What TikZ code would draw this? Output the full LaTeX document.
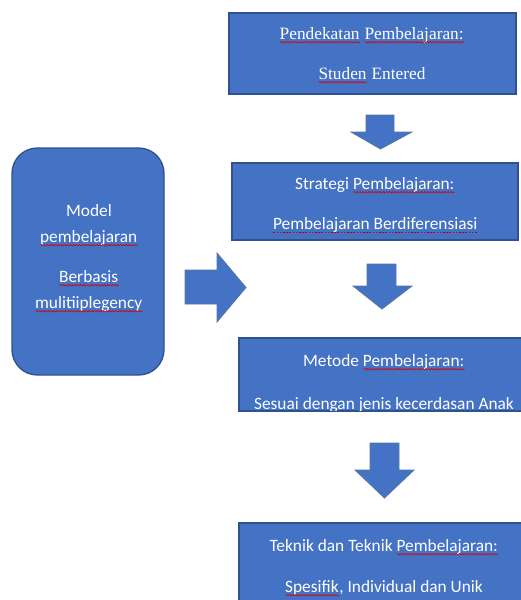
\documentclass[tikz,border=0pt]{standalone}
\usepackage{fontspec}
\setmainfont{Carlito}
\newfontfamily\tnr{Liberation Serif}
\usetikzlibrary{decorations.pathmorphing}
\definecolor{boxblue}{HTML}{4472C4}
\definecolor{boxedge}{HTML}{2F528F}
\newsavebox\sqb
\newlength\sqlen
\newcommand\sq[1]{\sbox\sqb{#1}\setlength\sqlen{\wd\sqb}\usebox\sqb\hspace{-\sqlen}\tikz[baseline=0pt]\draw[red!85!black,line width=0.45pt,decorate,decoration={snake,amplitude=0.55pt,segment length=2.2pt}] (0pt,-2.4pt)--(\the\sqlen,-2.4pt);}
\newcommand\sd[1]{\sbox\sqb{#1}\setlength\sqlen{\wd\sqb}\usebox\sqb\hspace{-\sqlen}\tikz[baseline=0pt]\draw[red!70!black,line width=0.45pt,dash pattern=on 1.2pt off 1.2pt] (0pt,-2.4pt)--(\the\sqlen,-2.4pt);}
\begin{document}
\begin{tikzpicture}[x=0.75pt,y=-0.75pt,
  box/.style={fill=boxblue,draw=boxedge,line width=1pt},
  arr/.style={fill=boxblue,draw=boxedge!80,line width=0.6pt,line join=miter},
  txt/.style={text=white,inner sep=0pt,anchor=base,font=\fontsize{13}{15}\selectfont},
  stxt/.style={txt,font=\tnr\fontsize{13}{15}\selectfont}]
\useasboundingbox (0,0) rectangle (521,600);
\clip (0,0) rectangle (521,600);
% boxes
\draw[box] (229,13) rectangle (516,94);
\draw[box] (232,163) rectangle (518,240);
\draw[box] (239,338) rectangle (530,411);
\draw[box] (239,523) rectangle (530,620);
\draw[box,rounded corners=19pt] (12,148) rectangle (164,375);
% block arrows
\draw[arr] (366,115) -- (394,115) -- (394,132) -- (412,132) -- (380.5,149) -- (351,132) -- (366,132) -- cycle;
\draw[arr] (367,264) -- (396,264) -- (396,286) -- (412,286) -- (382,309) -- (353,286) -- (367,286) -- cycle;
\draw[arr] (370,443) -- (399,443) -- (399,470) -- (414,470) -- (384.5,498) -- (355,470) -- (370,470) -- cycle;
\draw[arr] (185,270) -- (217,270) -- (217,253) -- (246,287.5) -- (217,322) -- (217,304) -- (185,304) -- cycle;
% texts
\node[stxt] (t1a) at (372,39) {\sq{Pendekatan} \sq{Pembelajaran:}};
\node[stxt] (t1b) at (372,79) {\sq{Studen} Entered};
\node[txt] (t2a) at (375,189) {Strategi \sq{Pembelajaran:}};
\node[txt] (t2b) at (375.5,229) {\sd{Pembelajaran Berdiferensiasi}};
\begin{scope}
\clip (239.5,338.5) rectangle (530,410.5);
\node[txt] (t3a) at (384,366) {Metode \sq{Pembelajaran:}};
\node[txt] (t3b) at (384,409) {Sesuai dengan jenis kecerdasan Anak};
\end{scope}
\node[txt] (t4a) at (384,551) {Teknik dan Teknik \sq{Pembelajaran:}};
\node[txt] (t4b) at (384,592) {\sq{Spesifik}, Individual dan Unik};
\node[txt] (m1) at (89,216) {Model};
\node[txt] (m2) at (89,242) {\sq{pembelajaran}};
\node[txt] (m3) at (89,282) {\sq{Berbasis}};
\node[txt] (m4) at (89,308) {\sq{mulitiiplegency}};
\end{tikzpicture}
\end{document}
